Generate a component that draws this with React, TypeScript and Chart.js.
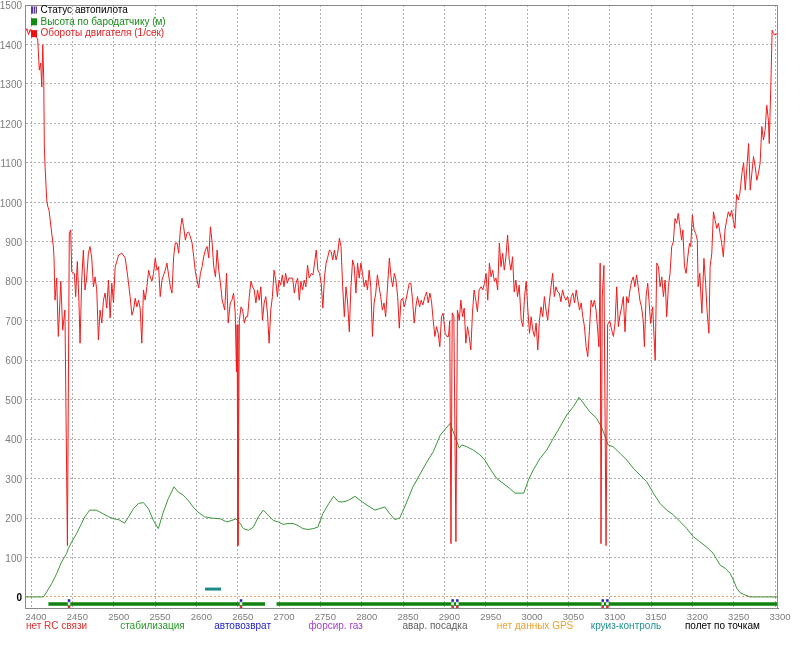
import React, { useEffect, useRef } from 'react';
import { Chart, registerables } from 'chart.js';

Chart.register(...registerables);

const FONT = '"Liberation Sans", Arial, sans-serif';

const X_MIN = 2392.7;
const X_MAX = 3303.6;
const Y_MIN = -28;
const Y_MAX = 1500;

const xTicks = [2400, 2450, 2500, 2550, 2600, 2650, 2700, 2750, 2800, 2850, 2900, 2950, 3000, 3050, 3100, 3150, 3200, 3250, 3300];
const yTicks = [0, 100, 200, 300, 400, 500, 600, 700, 800, 900, 1000, 1100, 1200, 1300, 1400, 1500];

const legendItems = ['Статус автопилота', 'Высота по бародатчику (м)', 'Обороты двигателя (1/сек)'];
const legendColors = ['#000000', '#1a8a1a', '#e02020'];

const modeLabels = ['нет RC связи', 'стабилизация', 'автовозврат', 'форсир. газ', 'авар. посадка', 'нет данных GPS', 'круиз-контроль', 'полет по точкам'];
const modeColors = ['#e03030', '#2a9a2a', '#2222cc', '#a040d0', '#606060', '#f0a030', '#209090', '#000000'];

// engine rpm (1/sec), [time, value]
const rpmPoints: [number, number][] = [
  [2393, 1432], [2395, 1440], [2397, 1425], [2399, 1438], [2401, 1428], [2403, 1435], [2405, 1420], [2408, 1415],
  [2410, 1335], [2411.7, 1353], [2413, 1292], [2414.2, 1399], [2415.4, 1310], [2416.1, 1140], [2417, 1090], [2419, 1006],
  [2420.2, 990], [2421.8, 980], [2425, 922], [2427, 888], [2427.8, 860], [2429, 752], [2431, 808], [2433, 660],
  [2436, 800], [2438.3, 676], [2441, 727], [2444, 130], [2446.3, 922], [2448, 930], [2449.2, 824], [2452.4, 820],
  [2454, 761], [2456, 850], [2458, 745], [2459.3, 643], [2461.3, 803], [2463.3, 879], [2465.3, 778], [2467.4, 811],
  [2469.4, 871], [2471.4, 888], [2473.4, 859], [2475.5, 786], [2477.5, 811], [2479.5, 778], [2481.5, 651], [2483.5, 727],
  [2485.6, 694], [2487.6, 752], [2489.6, 770], [2491.6, 732], [2493.7, 803], [2495.7, 707], [2497.7, 795], [2499.7, 745],
  [2501.8, 837], [2503.8, 850], [2505.8, 866], [2509.8, 871], [2513.9, 859], [2517, 811], [2519.9, 761], [2522, 714],
  [2524, 727], [2526, 757], [2528, 735], [2530, 752], [2532, 732], [2534, 643], [2536, 778], [2538, 752],
  [2540.2, 786], [2542.2, 828], [2544.2, 811], [2546.2, 800], [2548.2, 820], [2550.3, 859], [2552.3, 828], [2554.3, 837],
  [2556.3, 761], [2558.4, 803], [2560.4, 816], [2562.4, 828], [2564.4, 846], [2566.4, 816], [2568.5, 786], [2570.5, 770],
  [2572.5, 862], [2574.5, 897], [2576.6, 897], [2578.6, 871], [2580.6, 930], [2582.6, 960], [2584.6, 938], [2586.7, 904],
  [2588.7, 922], [2590.7, 925], [2592.7, 913], [2594.8, 897], [2596.8, 862], [2598.8, 824], [2600.8, 803], [2602.8, 783],
  [2604.9, 820], [2606.9, 837], [2608.9, 862], [2610.9, 879], [2613, 888], [2615, 859], [2617, 938], [2619, 900],
  [2621, 837], [2623.1, 811], [2625.1, 879], [2627.1, 828], [2629.1, 795], [2631.2, 752], [2634.3, 727], [2636.5, 820],
  [2638.5, 694], [2641, 745], [2643, 752], [2645, 770], [2647, 720], [2648.5, 570], [2649.3, 690], [2650.3, 130],
  [2652, 700], [2654, 735], [2656, 727], [2658, 694], [2660, 710], [2662, 710], [2664, 761], [2666, 800],
  [2668, 786], [2670, 778], [2672, 745], [2674, 778], [2676, 752], [2678, 786], [2680, 701], [2682, 745],
  [2684, 761], [2686, 719], [2688, 643], [2690, 727], [2692, 761], [2694, 828], [2696, 803], [2698, 761],
  [2700, 803], [2702, 790], [2704, 816], [2706, 786], [2708, 820], [2710, 795], [2712, 808], [2714.5, 808],
  [2716.5, 808], [2718.5, 770], [2720.5, 795], [2722.5, 808], [2724.5, 752], [2726.5, 800], [2728.5, 778], [2730.5, 803],
  [2732.5, 786], [2734.5, 841], [2736.5, 808], [2739, 820], [2741, 816], [2743, 846], [2745, 879], [2747, 828],
  [2749, 820], [2751, 795], [2753, 732], [2755, 811], [2757, 846], [2759, 862], [2761, 879], [2763, 875],
  [2765, 854], [2767, 879], [2769, 854], [2771, 871], [2773, 909], [2775, 888], [2777, 786], [2779, 710],
  [2781, 786], [2783, 745], [2785, 672], [2787, 786], [2789, 854], [2791, 837], [2793, 770], [2795, 846],
  [2797, 808], [2799, 846], [2801, 820], [2803, 786], [2805, 803], [2807, 778], [2809, 828], [2811, 786],
  [2813, 660], [2815, 745], [2817, 770], [2819, 816], [2821, 786], [2823, 761], [2825, 727], [2827, 745],
  [2829, 710], [2831, 778], [2833.5, 859], [2835.5, 811], [2837.5, 786], [2839.5, 820], [2841.5, 803], [2843.5, 761],
  [2845.5, 681], [2847.5, 752], [2849.5, 757], [2851.5, 735], [2853.5, 752], [2855.5, 773], [2857.5, 795], [2859.5, 795],
  [2861.5, 752], [2863.5, 694], [2865.5, 735], [2867.5, 761], [2870, 735], [2872, 752], [2874, 740], [2876.5, 761],
  [2878.5, 773], [2880.5, 745], [2882.5, 770], [2884.5, 748], [2886.5, 701], [2888.5, 660], [2890.5, 685], [2892.5, 668],
  [2894.5, 634], [2896.5, 710], [2898.5, 719], [2901, 668], [2903, 660], [2905, 660], [2906.5, 700], [2908, 135],
  [2909.5, 720], [2911.5, 710], [2914, 140], [2915.8, 727], [2918, 701], [2920, 752], [2922, 710], [2924, 732],
  [2926, 643], [2928, 685], [2930, 660], [2932, 626], [2934, 719], [2936, 778], [2938, 752], [2940, 723],
  [2942, 778], [2944.5, 786], [2946.5, 778], [2948.5, 795], [2950.5, 820], [2952.5, 752], [2954.5, 846], [2956.5, 811],
  [2958.5, 828], [2960.5, 800], [2962.5, 808], [2964.5, 778], [2966.5, 897], [2968.5, 837], [2970.5, 871], [2972.5, 828],
  [2974.5, 862], [2976.5, 917], [2978.5, 854], [2980.5, 828], [2982.5, 862], [2984.5, 773], [2986.5, 803], [2988.5, 761],
  [2990.5, 790], [2993, 701], [2995, 685], [2997, 761], [2999, 800], [3001, 727], [3003, 668], [3005, 710],
  [3007, 676], [3009, 660], [3011, 694], [3013, 626], [3015, 701], [3017, 735], [3019, 710], [3021, 761],
  [3023, 727], [3025, 701], [3027, 748], [3029, 786], [3031, 820], [3033, 761], [3035, 786], [3037, 773],
  [3039, 770], [3041, 748], [3043, 778], [3045, 761], [3047, 752], [3049, 761], [3051.5, 735], [3053.5, 761],
  [3055.5, 770], [3057.5, 745], [3059.5, 778], [3061.5, 752], [3063.5, 727], [3065.5, 745], [3067.5, 710], [3069.5, 685],
  [3071.5, 634], [3073.5, 609], [3075.5, 676], [3077.5, 752], [3079.5, 735], [3081.5, 752], [3083.5, 727], [3085.5, 676],
  [3087, 634], [3088.5, 846], [3089.5, 135], [3091, 760], [3093, 840], [3095.6, 130], [3097.5, 690], [3100, 700],
  [3102.5, 676], [3104.5, 660], [3106.5, 694], [3108.5, 786], [3110.5, 685], [3112.5, 715], [3114.5, 735], [3116.5, 761],
  [3118.5, 672], [3120.5, 761], [3122.5, 745], [3124.5, 778], [3126.5, 800], [3128.5, 811], [3130.5, 786], [3132.5, 816],
  [3134.5, 786], [3136.5, 752], [3138.5, 735], [3140.5, 701], [3142, 634], [3144, 761], [3146, 795], [3147.5, 752],
  [3149.5, 693], [3152, 735], [3155, 600], [3157, 846], [3159, 837], [3161, 786], [3163, 811], [3165, 761],
  [3167, 803], [3169, 710], [3171, 786], [3173, 820], [3175, 888], [3177, 900], [3179, 959], [3181, 947],
  [3183, 972], [3185, 938], [3187, 904], [3188.5, 930], [3190.5, 837], [3192.5, 820], [3194.5, 862], [3196.5, 896],
  [3198, 888], [3200, 968], [3202, 930], [3204, 921], [3206, 904], [3207, 786], [3209, 820], [3211.5, 719],
  [3214, 858], [3216, 795], [3218, 719], [3220, 668], [3221.5, 837], [3223.5, 871], [3225.5, 976], [3227.5, 955],
  [3229.5, 934], [3231.5, 947], [3233.5, 921], [3235.5, 896], [3237.5, 862], [3239.5, 930], [3241.5, 955], [3243.5, 976],
  [3245.5, 964], [3247.5, 980], [3249.5, 955], [3251.5, 934], [3253.5, 1020], [3255.5, 1006], [3257.5, 1023], [3260, 1074],
  [3262, 1100], [3264, 1031], [3266, 1090], [3268, 1149], [3270, 1031], [3272, 1074], [3274, 1116], [3276, 1090],
  [3278, 1056], [3280, 1074], [3282, 1100], [3284, 1192], [3286, 1158], [3288, 1183], [3290, 1246], [3292, 1208],
  [3293, 1149], [3295, 1301], [3296.5, 1436], [3298, 1428], [3299.5, 1424], [3303, 1428],
];

// barometric altitude (m), [time, value]
const altPoints: [number, number][] = [
  [2392.7, 0], [2415, 0], [2419, 13], [2425, 34], [2431, 59], [2437, 89], [2443, 110], [2445, 122],
  [2449, 139], [2455, 160], [2461, 186], [2465, 203], [2471, 220], [2479, 220], [2487, 211], [2494, 203],
  [2500, 198], [2506, 196], [2513, 187], [2518, 203], [2524, 224], [2530, 237], [2536, 239], [2542, 224],
  [2548, 194], [2554, 173], [2560, 215], [2566, 249], [2573, 279], [2578, 266], [2584, 258], [2590, 245],
  [2596, 228], [2602, 215], [2610, 203], [2618, 200], [2629, 198], [2637, 190], [2643, 194], [2648, 198],
  [2653, 186], [2657, 173], [2663, 169], [2669, 177], [2675, 203], [2681, 220], [2687, 207], [2693, 194],
  [2699, 190], [2705, 184], [2711, 186], [2717, 186], [2723, 181], [2729, 173], [2735, 171], [2741, 173],
  [2747, 177], [2753, 211], [2760, 236], [2766, 255], [2772, 241], [2778, 241], [2784, 245], [2792, 255],
  [2798, 245], [2804, 236], [2810, 228], [2816, 220], [2822, 224], [2828, 228], [2834, 211], [2840, 196],
  [2846, 200], [2852, 228], [2862, 279], [2870, 309], [2878, 339], [2886.6, 368], [2895, 410], [2901, 425],
  [2907, 440], [2913, 406], [2918, 377], [2921, 385], [2927, 381], [2935, 372], [2943, 360], [2949, 347],
  [2955, 326], [2963, 301], [2971, 288], [2979, 275], [2985.5, 263], [2996, 263], [3001.6, 296], [3007.6, 322],
  [3015.7, 351], [3023.8, 372], [3031.8, 402], [3039.9, 431], [3048, 461], [3056, 482], [3063, 506], [3070, 486],
  [3076, 469], [3084, 453], [3090, 431], [3096, 398], [3098, 385], [3104, 381], [3112.5, 364], [3120.6, 347],
  [3128.6, 326], [3136.7, 309], [3144.8, 292], [3152.8, 263], [3160.9, 237], [3169, 220], [3177, 208], [3185, 191],
  [3193, 174], [3201, 153], [3209, 140], [3217, 127], [3225, 111], [3233.5, 81], [3239.5, 73], [3245.6, 60],
  [3249.6, 43], [3253.7, 22], [3257.7, 11], [3263.7, 5], [3269.8, 0], [3303.6, 0],
];

// autopilot status strip
const statusLevel = -18;
const statusSegments: [number, number][] = [[2421, 2683], [2697, 3303.6]];
const tealSegment: [number, number] = [2610.5, 2630];
const tealLevel = 20;
const statusMarks = [2446, 2654, 2910, 2915.7, 3091.6, 3097.2];

const framePlugin = {
  id: 'frame',
  afterDatasetsDraw(chart: Chart) {
    const { ctx, chartArea: a } = chart;
    ctx.save();
    ctx.strokeStyle = '#8a8a8a';
    ctx.lineWidth = 1;
    ctx.strokeRect(a.left + 0.5, a.top + 0.5, a.right - a.left - 1, a.bottom - a.top);
    ctx.restore();
  },
};

const labelsPlugin = {
  id: 'labels',
  afterDraw(chart: Chart) {
    const { ctx, chartArea: a } = chart;
    ctx.save();
    ctx.font = `10px ${FONT}`;
    ctx.textBaseline = 'middle';
    ctx.textAlign = 'left';
    // legend
    legendItems.forEach((txt, i) => {
      const y = a.top + 5 + i * 11.8;
      const x = a.left + 6;
      if (i === 0) {
        ctx.fillStyle = '#5a3c8c';
        ctx.fillRect(x, y - 3.5, 6, 7);
        ctx.fillStyle = '#c4b4e4';
        ctx.fillRect(x + 2, y - 3.5, 1, 7);
        ctx.fillRect(x + 4, y - 3.5, 1, 7);
      } else {
        ctx.fillStyle = i === 1 ? '#108a10' : '#ee1010';
        ctx.fillRect(x, y - 3.5, 6, 7);
      }
      ctx.fillStyle = legendColors[i];
      ctx.fillText(txt, x + 9.5, y);
    });
    // flight mode names under the axis
    const step = (a.right - a.left) / modeLabels.length;
    modeLabels.forEach((txt, i) => {
      ctx.fillStyle = modeColors[i];
      ctx.fillText(txt, a.left + 1 + i * step, 626);
    });
    ctx.restore();
  },
};

const segmentData = (segs: [number, number][], level: number) => {
  const out: { x: number; y: number | null }[] = [];
  segs.forEach(([a, b], i) => {
    if (i > 0) out.push({ x: (segs[i - 1][1] + a) / 2, y: null });
    out.push({ x: a, y: level }, { x: b, y: level });
  });
  return out;
};

const App: React.FC = () => {
  const canvasRef = useRef<HTMLCanvasElement>(null);
  const chartRef = useRef<Chart | null>(null);

  useEffect(() => {
    document.body.style.margin = '0';
    if (!canvasRef.current) return;
    const ctx = canvasRef.current.getContext('2d');
    if (!ctx) return;
    if (chartRef.current) chartRef.current.destroy();

    const markerSet = (level: number, color: string) => ({
      data: statusMarks.map(t => ({ x: t, y: level })),
      showLine: false,
      pointStyle: 'rect' as const,
      pointRadius: 1.8,
      pointBackgroundColor: color,
      pointBorderWidth: 0,
      clip: false as const,
      order: -1,
    });

    chartRef.current = new Chart(ctx, {
      type: 'line',
      data: {
        datasets: [
          {
            data: rpmPoints.map(([x, y]) => ({ x, y })),
            borderColor: '#f01c1c',
            borderWidth: 1,
            pointRadius: 0,
            order: 0,
          },
          {
            data: altPoints.map(([x, y]) => ({ x, y })),
            borderColor: '#3a963a',
            borderWidth: 1,
            pointRadius: 0,
            order: 1,
          },
          {
            data: segmentData(statusSegments, statusLevel),
            borderColor: '#0f820f',
            borderWidth: 3.5,
            pointRadius: 0,
            clip: false as const,
            order: 2,
          },
          {
            data: segmentData([tealSegment], tealLevel),
            borderColor: '#1c8a8a',
            borderWidth: 3,
            pointRadius: 0,
            order: 2,
          },
          markerSet(-9, '#2020c0'),
          markerSet(-17, '#ffffff'),
          markerSet(-25.5, '#d03030'),
        ] as any,
      },
      options: {
        animation: false,
        responsive: true,
        maintainAspectRatio: false,
        parsing: false,
        layout: { padding: { top: 5, right: 22, left: 0, bottom: 0 } },
        plugins: {
          legend: { display: false },
          tooltip: { enabled: false },
        },
        scales: {
          x: {
            type: 'linear',
            min: X_MIN,
            max: X_MAX,
            afterBuildTicks: (s: any) => { s.ticks = xTicks.map(v => ({ value: v })); },
            afterFit: (s: any) => { s.height = 40; },
            grid: { color: '#b0b0b0', lineWidth: 1, drawTicks: false },
            border: { display: true, color: '#7a7a7a', dash: [2, 2] },
            ticks: {
              color: '#7c7c7c',
              font: { family: FONT, size: 9.5, lineHeight: 1 },
              padding: 5,
              labelOffset: 5,
              maxRotation: 0,
              autoSkip: false,
              callback: (v: any) => String(v),
            },
          },
          y: {
            type: 'linear',
            min: Y_MIN,
            max: Y_MAX,
            afterBuildTicks: (s: any) => { s.ticks = yTicks.map(v => ({ value: v })); },
            afterFit: (s: any) => {
              s.width = 25;
              s.paddingTop = 0;
              s.paddingBottom = 0;
            },
            grid: {
              color: (c: any) => (c.tick && c.tick.value === 0 ? '#e8a070' : '#b0b0b0'),
              lineWidth: 1,
              drawTicks: false,
            },
            border: { display: true, color: '#7a7a7a', dash: [2, 2] },
            ticks: {
              color: (c: any) => (c.tick && c.tick.value === 0 ? '#000000' : '#7c7c7c'),
              font: (c: any) => ({
                family: FONT,
                size: 10,
                lineHeight: 1,
                weight: c.tick && c.tick.value === 0 ? 'bold' : 'normal',
              }),
              padding: 3,
              labelOffset: 1.5,
              autoSkip: false,
              callback: (v: any) => String(v),
            },
          },
        },
      },
      plugins: [framePlugin, labelsPlugin],
    });

    return () => {
      if (chartRef.current) {
        chartRef.current.destroy();
        chartRef.current = null;
      }
    };
  }, []);

  return (
    <div style={{ width: '800px', height: '648px', position: 'relative', background: '#ffffff' }}>
      <canvas ref={canvasRef}></canvas>
    </div>
  );
};

export default App;
